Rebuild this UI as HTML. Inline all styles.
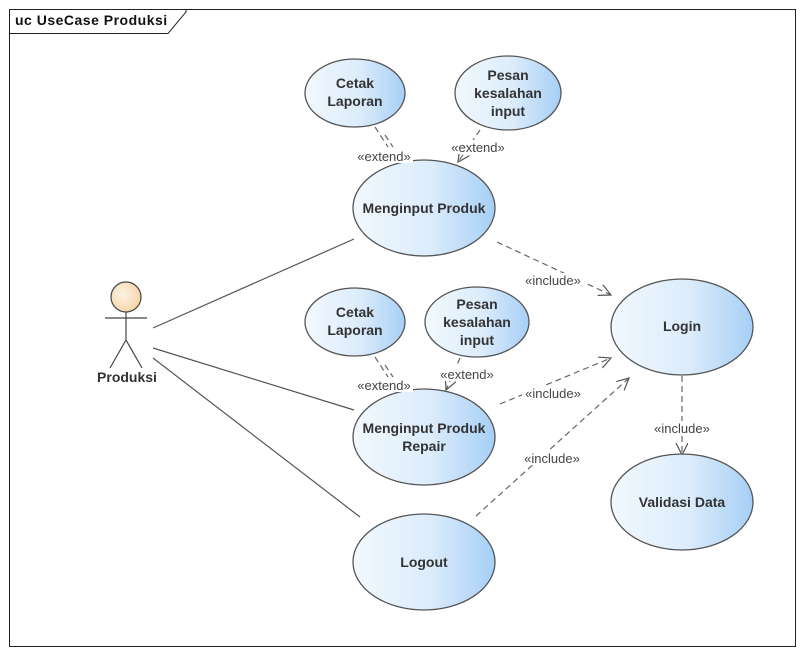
<!DOCTYPE html>
<html><head><meta charset="utf-8"><style>html,body{margin:0;padding:0;background:#fff}svg{display:block}</style></head><body>
<svg width="804" height="655" viewBox="0 0 804 655" xmlns="http://www.w3.org/2000/svg" font-family="Liberation Sans, sans-serif">
<defs>
<linearGradient id="g" x1="0" y1="0" x2="1" y2="0">
<stop offset="0" stop-color="#f2f8fe"/><stop offset="0.55" stop-color="#dcecfb"/><stop offset="1" stop-color="#a6cff6"/>
</linearGradient>
<radialGradient id="a" cx="0.4" cy="0.4" r="0.7"><stop offset="0" stop-color="#fdf3e4"/><stop offset="1" stop-color="#f3d2a0"/></radialGradient>
<marker id="ar" markerWidth="14" markerHeight="14" refX="12" refY="6" orient="auto" markerUnits="userSpaceOnUse"><path d="M0,0 L12,6 L0,12" fill="none" stroke="#555" stroke-width="1.2"/></marker>
</defs>
<rect x="9.5" y="9.5" width="786" height="637" fill="#fff" stroke="#222"/>
<path d="M9.5,33.5 H168 L186,12 V9.5" fill="none" stroke="#222"/>
<text x="15" y="25" font-size="14" font-weight="bold" fill="#111" letter-spacing="0.5">uc UseCase Produksi</text>

<g stroke="#555" stroke-width="1.2" fill="none">
<line x1="153" y1="328" x2="354" y2="239"/>
<line x1="153" y1="348" x2="354" y2="410"/>
<line x1="153" y1="358" x2="360" y2="517"/>
</g>
<g stroke="#666" stroke-width="1.2" fill="none" stroke-dasharray="6,4">
<line x1="375" y1="127" x2="388" y2="147"/><line x1="385" y1="135" x2="393" y2="147"/>
<line x1="480" y1="130" x2="458" y2="162" marker-end="url(#ar)"/>
<line x1="497" y1="242" x2="611" y2="295" marker-end="url(#ar)"/>
<line x1="375" y1="357" x2="388" y2="377"/><line x1="385" y1="365" x2="393" y2="377"/>
<line x1="460" y1="358" x2="446" y2="390" marker-end="url(#ar)"/>
<line x1="500" y1="404" x2="611" y2="358" marker-end="url(#ar)"/>
<line x1="476" y1="516" x2="629" y2="378" marker-end="url(#ar)"/>
<line x1="682" y1="376" x2="682" y2="455" marker-end="url(#ar)"/>
</g>

<g stroke="#555" stroke-width="1.3" fill="url(#g)">
<ellipse cx="355" cy="93" rx="50" ry="34"/>
<ellipse cx="508" cy="93" rx="53" ry="37"/>
<ellipse cx="424" cy="208" rx="71" ry="48"/>
<ellipse cx="682" cy="327" rx="71" ry="48"/>
<ellipse cx="355" cy="322" rx="50" ry="34"/>
<ellipse cx="477" cy="322" rx="52" ry="35"/>
<ellipse cx="424" cy="437" rx="71" ry="48"/>
<ellipse cx="682" cy="502" rx="71" ry="48"/>
<ellipse cx="424" cy="562" rx="71" ry="48"/>
</g>

<g font-size="14" font-weight="bold" fill="#333" text-anchor="middle">
<text x="355" y="88">Cetak</text><text x="355" y="106">Laporan</text>
<text x="508" y="80">Pesan</text><text x="508" y="98">kesalahan</text><text x="508" y="116">input</text>
<text x="424" y="213">Menginput Produk</text>
<text x="682" y="331">Login</text>
<text x="355" y="317">Cetak</text><text x="355" y="335">Laporan</text>
<text x="477" y="309">Pesan</text><text x="477" y="327">kesalahan</text><text x="477" y="345">input</text>
<text x="424" y="433">Menginput Produk</text><text x="424" y="451">Repair</text>
<text x="682" y="507">Validasi Data</text>
<text x="424" y="567">Logout</text>
<text x="127" y="382">Produksi</text>
</g>

<g fill="#fff">
<rect x="355" y="149" width="58" height="14"/>
<rect x="449" y="140" width="58" height="14"/>
<rect x="522" y="273" width="62" height="14"/>
<rect x="355" y="378" width="58" height="14"/>
<rect x="438" y="367" width="58" height="14"/>
<rect x="522" y="386" width="62" height="14"/>
<rect x="521" y="451" width="62" height="14"/>
<rect x="651" y="421" width="62" height="14"/>
</g>
<g font-size="13" fill="#444" text-anchor="middle">
<text x="384" y="161">«extend»</text>
<text x="478" y="152">«extend»</text>
<text x="553" y="285">«include»</text>
<text x="384" y="390">«extend»</text>
<text x="467" y="379">«extend»</text>
<text x="553" y="398">«include»</text>
<text x="552" y="463">«include»</text>
<text x="682" y="433">«include»</text>
</g>

<g stroke="#444" stroke-width="1.2" fill="none">
<circle cx="126" cy="297" r="15" fill="url(#a)"/>
<line x1="126" y1="312" x2="126" y2="340"/>
<line x1="105" y1="318" x2="147" y2="318"/>
<line x1="126" y1="340" x2="110" y2="368"/>
<line x1="126" y1="340" x2="142" y2="368"/>
</g>
</svg>
</body></html>
